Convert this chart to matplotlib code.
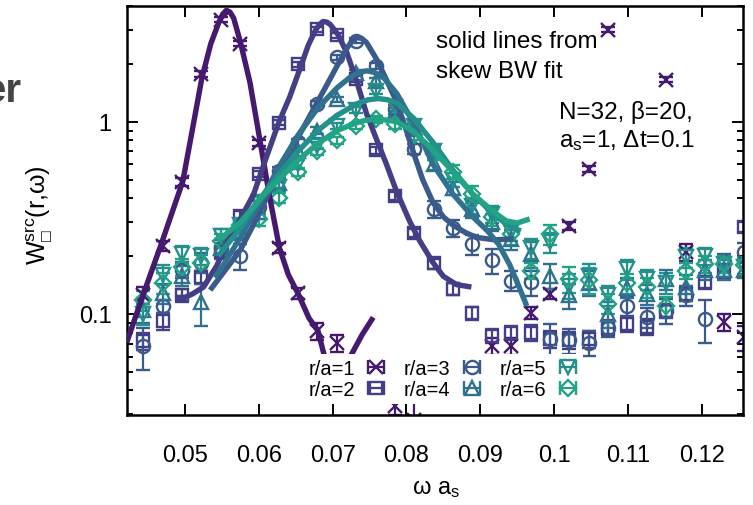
import numpy as np
import matplotlib
matplotlib.use("Agg")
import matplotlib.pyplot as plt
from matplotlib.container import ErrorbarContainer
from matplotlib.legend_handler import HandlerErrorbar
from matplotlib.ticker import FixedLocator, LogLocator, NullFormatter

plt.rcParams['font.family'] = ['Liberation Sans', 'DejaVu Sans']
plt.rcParams['mathtext.fontset'] = 'custom'
plt.rcParams['mathtext.rm'] = 'Liberation Sans'
plt.rcParams['mathtext.it'] = 'Liberation Sans'
plt.rcParams['mathtext.fallback'] = 'stixsans'

# omega grid (omega * a_s)
omega = [0.04433, 0.04695, 0.04957, 0.05220, 0.05482, 0.05745, 0.06007, 0.06270,
         0.06532, 0.06795, 0.07057, 0.07320, 0.07582, 0.07845, 0.08107, 0.08370,
         0.08632, 0.08895, 0.09157, 0.09419, 0.09682, 0.09944, 0.10207, 0.10469,
         0.10732, 0.10994, 0.11257, 0.11519, 0.11782, 0.12044, 0.12307, 0.12569]

nan = np.nan
w_r1 = [0.125, 0.227, 0.487, 1.77, 3.39, 2.54, 0.775, 0.22, 0.128, 0.0818, 0.0707, nan,
        nan, 0.033, 0.028, nan, nan, nan, 0.068, 0.068, 0.101, 0.127, 0.288, 0.568,
        3.01, nan, nan, 1.65, 0.21, nan, 0.0905, 0.0756]
w_r2 = [0.072, 0.092, 0.125, 0.155, 0.21, 0.325, 0.535, 0.99, 1.99, 3.03, 2.82, 1.67,
        0.71, 0.41, 0.265, 0.183, 0.135, 0.101, 0.077, 0.080, 0.080, 0.074, 0.073, 0.074,
        0.085, 0.089, 0.086, 0.104, 0.127, 0.146, 0.168, 0.283]
w_r3 = [0.068, 0.11, 0.17, 0.185, 0.22, 0.20, 0.36, 0.556, 0.78, 1.24, 2.16, 2.64,
        1.95, 1.16, 0.72, 0.35, 0.28, 0.23, 0.19, 0.149, 0.146, 0.074, 0.073, 0.071,
        0.084, 0.11, 0.096, 0.104, 0.125, 0.094, 0.186, 0.209]
w_r4 = [0.105, 0.128, 0.158, 0.115, 0.22, 0.27, 0.34, 0.48, 0.70, 0.90, 1.31, 1.80,
        1.62, 1.12, 0.92, 0.60, 0.45, 0.35, 0.30, 0.245, 0.205, 0.158, 0.125, 0.145,
        0.10, 0.137, 0.127, 0.152, 0.138, 0.17, 0.17, 0.17]
w_r5 = [0.10, 0.16, 0.205, 0.20, 0.255, 0.29, 0.38, 0.46, 0.60, 0.75, 0.95, 1.15,
        1.45, 1.20, 0.95, 0.707, 0.50, 0.366, 0.33, 0.266, 0.22, 0.236, 0.14, 0.158,
        0.125, 0.171, 0.152, 0.145, 0.197, 0.20, 0.182, 0.175]
w_r6 = [0.118, 0.145, 0.175, 0.185, 0.24, 0.29, 0.31, 0.40, 0.55, 0.70, 0.80, 0.95,
        1.03, 0.97, 0.85, 0.68, 0.55, 0.42, 0.318, 0.26, 0.168, 0.26, 0.152, 0.15,
        0.113, 0.144, 0.138, 0.11, 0.168, 0.182, 0.182, 0.18]

# relative errors
re_r1 = [0.10, 0.06, 0.05, 0.04, 0.03, 0.03, 0.04, 0.06, 0.07, 0.10, 0.10, 0.10,
         0.10, 0.10, 0.25, 0.10, 0.10, 0.10, 0.10, 0.10, 0.07, 0.06, 0.05, 0.04,
         0.03, 0.10, 0.10, 0.03, 0.10, 0.10, 0.10, 0.15]
re_r2 = [0.10, 0.10, 0.08, 0.08, 0.06, 0.05, 0.04, 0.03, 0.03, 0.03, 0.03, 0.04,
         0.04, 0.05, 0.05, 0.06, 0.07, 0.08, 0.08, 0.08, 0.10, 0.10, 0.10, 0.10,
         0.10, 0.10, 0.10, 0.08, 0.08, 0.08, 0.08, 0.06]
re_r3 = [0.25, 0.08, 0.10, 0.12, 0.10, 0.15, 0.08, 0.05, 0.04, 0.03, 0.03, 0.03,
         0.04, 0.05, 0.06, 0.10, 0.10, 0.12, 0.15, 0.12, 0.15, 0.20, 0.15, 0.15,
         0.10, 0.12, 0.12, 0.15, 0.12, 0.25, 0.10, 0.12]
re_r4 = [0.15, 0.12, 0.12, 0.25, 0.12, 0.10, 0.08, 0.06, 0.05, 0.04, 0.03, 0.03,
         0.04, 0.05, 0.06, 0.07, 0.08, 0.10, 0.10, 0.12, 0.15, 0.15, 0.15, 0.15,
         0.15, 0.12, 0.12, 0.12, 0.15, 0.12, 0.12, 0.10]
re_r5 = [0.12, 0.12, 0.10, 0.10, 0.08, 0.08, 0.07, 0.06, 0.05, 0.04, 0.04, 0.04,
         0.04, 0.05, 0.06, 0.07, 0.08, 0.10, 0.10, 0.10, 0.12, 0.12, 0.15, 0.15,
         0.12, 0.12, 0.12, 0.12, 0.12, 0.10, 0.10, 0.10]
re_r6 = [0.12, 0.12, 0.10, 0.10, 0.08, 0.08, 0.07, 0.06, 0.05, 0.04, 0.04, 0.04,
         0.04, 0.05, 0.06, 0.07, 0.08, 0.10, 0.10, 0.12, 0.10, 0.12, 0.15, 0.15,
         0.12, 0.12, 0.12, 0.12, 0.10, 0.10, 0.10, 0.10]

# skew BW fit curves
fit_x1 = [0.0421, 0.0443, 0.0467, 0.0497, 0.0510, 0.0523, 0.0535, 0.0546, 0.0551, 0.0556,
          0.0561, 0.0566, 0.0575, 0.0588, 0.0602, 0.0615, 0.0628, 0.0640, 0.0653, 0.0668,
          0.0680, 0.0690, 0.0705, 0.0714, 0.0724, 0.0740, 0.0755]
fit_y1 = [0.071, 0.125, 0.226, 0.49, 0.91, 1.70, 2.55, 3.3, 3.62, 3.8,
          3.72, 3.45, 2.6, 1.6, 0.78, 0.40, 0.22, 0.16, 0.128, 0.095,
          0.082, 0.058, 0.047, 0.050, 0.060, 0.078, 0.096]
fit_x2 = [0.0489, 0.0500, 0.0510, 0.0525, 0.0543, 0.0557, 0.0575, 0.0593, 0.0610, 0.0627,
          0.0642, 0.0656, 0.0667, 0.0677, 0.0682, 0.0687, 0.0692, 0.0697, 0.0707, 0.0719,
          0.0732, 0.0746, 0.0760, 0.0773, 0.0787, 0.0805, 0.0818, 0.0836, 0.0850, 0.0868,
          0.0888]
fit_y2 = [0.122, 0.122, 0.127, 0.138, 0.178, 0.236, 0.312, 0.42, 0.65, 0.99,
          1.35, 1.9, 2.5, 3.0, 3.2, 3.32, 3.3, 3.2, 2.85, 2.3,
          1.65, 1.1, 0.80, 0.60, 0.43, 0.30, 0.24, 0.185, 0.157, 0.142,
          0.138]
fit_x3 = [0.0534, 0.0555, 0.0575, 0.0600, 0.0626, 0.0651, 0.0678, 0.0692, 0.0706, 0.0719,
          0.0726, 0.0732, 0.0739, 0.0746, 0.0760, 0.0773, 0.0787, 0.0800, 0.0809, 0.0822,
          0.0836, 0.0850, 0.0863, 0.0880, 0.0895, 0.0920, 0.0945]
fit_y3 = [0.133, 0.17, 0.215, 0.33, 0.54, 0.80, 1.24, 1.55, 1.95, 2.4,
          2.62, 2.74, 2.72, 2.58, 2.1, 1.65, 1.26, 0.90, 0.70, 0.50,
          0.38, 0.32, 0.29, 0.265, 0.25, 0.243, 0.246]
fit_x4 = [0.0540, 0.0548, 0.0575, 0.0600, 0.0627, 0.0653, 0.0680, 0.0706, 0.0725, 0.0736,
          0.0746, 0.0756, 0.0770, 0.0787, 0.0810, 0.0836, 0.0863, 0.0890, 0.0910, 0.0925,
          0.0940, 0.0952, 0.0963]
fit_y4 = [0.155, 0.17, 0.25, 0.37, 0.58, 0.85, 1.18, 1.5, 1.72, 1.81,
          1.84, 1.81, 1.68, 1.40, 0.98, 0.60, 0.42, 0.32, 0.27, 0.23,
          0.18, 0.14, 0.11]
fit_x5 = [0.0545, 0.0575, 0.0600, 0.0627, 0.0653, 0.0680, 0.0706, 0.0733, 0.0748, 0.0762,
          0.0775, 0.0787, 0.0810, 0.0836, 0.0863, 0.0890, 0.0918, 0.0940, 0.0955]
fit_y5 = [0.20, 0.28, 0.39, 0.53, 0.70, 0.90, 1.08, 1.24, 1.30, 1.32,
          1.30, 1.25, 1.04, 0.78, 0.56, 0.42, 0.33, 0.285, 0.27]
fit_x6 = [0.0543, 0.0550, 0.0575, 0.0600, 0.0627, 0.0653, 0.0680, 0.0706, 0.0733, 0.0746,
          0.0760, 0.0773, 0.0787, 0.0810, 0.0836, 0.0863, 0.0890, 0.0918, 0.0935, 0.0950,
          0.0967]
fit_y6 = [0.245, 0.25, 0.30, 0.39, 0.50, 0.63, 0.77, 0.90, 0.99, 1.02,
          1.03, 1.02, 1.00, 0.89, 0.71, 0.55, 0.42, 0.34, 0.305, 0.297,
          0.312]

labels = ["r/a=1", "r/a=2", "r/a=3", "r/a=4", "r/a=5", "r/a=6"]
colors = ["#451a6e", "#433e85", "#3a5a8c", "#2f718e", "#23908c", "#22a386"]
markers = ["x", "s", "o", "^", "v", "D"]
msizes = [9.5, 9.0, 9.5, 9.5, 9.5, 7.8]

data = [w_r1, w_r2, w_r3, w_r4, w_r5, w_r6]
rerr = [re_r1, re_r2, re_r3, re_r4, re_r5, re_r6]
fits = [(fit_x1, fit_y1), (fit_x2, fit_y2), (fit_x3, fit_y3),
        (fit_x4, fit_y4), (fit_x5, fit_y5), (fit_x6, fit_y6)]

fig = plt.figure(figsize=(7.53, 5.06), dpi=100)
ax = fig.add_axes([127 / 753, 90 / 506, 616 / 753, 409 / 506])

x = np.array(omega)
for y, e, c, m, ms in zip(data, rerr, colors, markers, msizes):
    y = np.array(y)
    err = y * np.array(e)
    ax.errorbar(x, y, yerr=err, fmt=m, ms=ms, mfc="none", mec=c, mew=1.7,
                ecolor=c, elinewidth=1.6, capsize=4.7, capthick=1.6, zorder=2)

for (fx, fy), c in zip(fits, colors):
    ax.plot(fx, fy, "-", color=c, lw=3.9, solid_capstyle="butt",
            solid_joinstyle="round", zorder=3)

# legend proxies with horizontal error bar sample (gnuplot style)
handles = []
for c, m, ms in zip(colors, markers, msizes):
    h = ax.errorbar([nan], [nan], xerr=[1.0], fmt=m, ms=ms, mfc="none", mec=c, mew=1.7,
                    ecolor=c, elinewidth=1.6, capsize=4.7, capthick=1.6)
    handles.append(h)

leg = ax.legend(handles, labels, ncol=3,
                loc="center", bbox_to_anchor=(0.513, 0.088), markerfirst=False,
                frameon=True, fancybox=False, facecolor="white", edgecolor="none",
                framealpha=1, fontsize=14.5, handlelength=1.0, handletextpad=0.55,
                columnspacing=0.9, labelspacing=0.12, borderpad=0.25, numpoints=1,
                handler_map={ErrorbarContainer: HandlerErrorbar(xerr_size=0.4)})

ax.set_yscale("log")
ax.set_xlim(0.04214, 0.1256)
ax.set_ylim(0.0298, 4.0)

ax.set_xticks([0.05, 0.06, 0.07, 0.08, 0.09, 0.10, 0.11, 0.12])
ax.set_xticklabels(["0.05", "0.06", "0.07", "0.08", "0.09", "0.1", "0.11", "0.12"])
ax.yaxis.set_major_locator(FixedLocator([0.1, 1.0]))
ax.set_yticklabels(["0.1", "1"])
ax.yaxis.set_minor_locator(LogLocator(base=10, subs=[2, 3, 4, 5, 6, 7, 8, 9]))
ax.yaxis.set_minor_formatter(NullFormatter())

ax.tick_params(which="both", direction="in", top=True, right=True, width=1.4)
ax.tick_params(which="major", length=8, labelsize=17)
ax.tick_params(axis="x", which="major", pad=21)
ax.tick_params(axis="y", which="major", pad=11)
ax.tick_params(which="minor", length=4)
for s in ax.spines.values():
    s.set_linewidth(1.8)

ax.text(0.5016, 0.900, "solid lines from", transform=ax.transAxes, fontsize=17.5,
        va="baseline", ha="left")
ax.text(0.5016, 0.826, "skew BW fit", transform=ax.transAxes, fontsize=17.5,
        va="baseline", ha="left")
ax.text(0.701, 0.726, "N=32, β=20,", transform=ax.transAxes, fontsize=17.5,
        va="baseline", ha="left")
ax.text(0.701, 0.658, r"a$_\mathrm{s}$=1, Δt=0.1", transform=ax.transAxes, fontsize=17.5,
        va="baseline", ha="left")

fig.text(436 / 753, 1 - 489 / 506, r"ω a$_\mathrm{s}$", fontsize=17, ha="center",
         va="center")
fig.text(40 / 753, 1 - 215 / 506, "W$^\\mathrm{src}_\\mathrm{\u25a1}$(r,ω)", fontsize=18,
         rotation=90, ha="center", va="center")
fig.text(21 / 753, 1 - 102 / 506, "er", fontsize=29, fontweight="bold", color="#444444",
         ha="right", va="baseline")

fig.savefig("out.png", dpi=100)
